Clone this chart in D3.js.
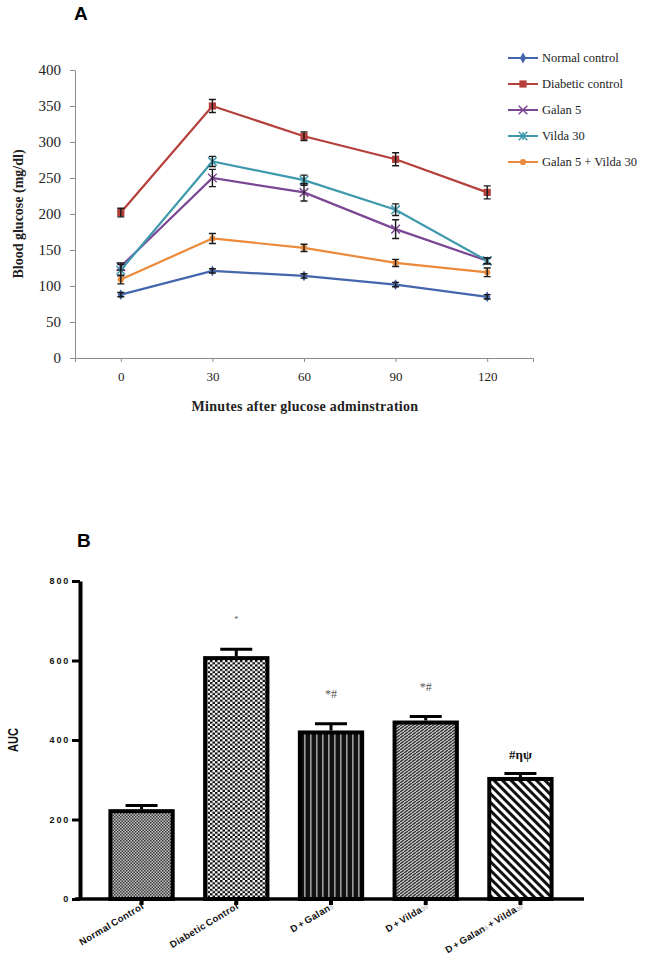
<!DOCTYPE html>
<html><head><meta charset="utf-8">
<script src="https://cdn.jsdelivr.net/npm/d3@7"></script>
<style>body{margin:0;background:#fff}svg{display:block}</style>
</head><body><svg id="c" width="654" height="959"></svg>
<script>
// ---------- Panel A data ----------
const times = [0, 30, 60, 90, 120];
const seriesNames = ["Normal control", "Diabetic control", "Galan 5", "Vilda 30", "Galan 5 + Vilda 30"];
const normalControl = [88, 121, 114, 102, 85];
const normalErr = [3, 3, 3, 3, 3];
const diabeticControl = [202, 350, 308, 276, 230];
const diabeticErr = [6, 9, 6, 9, 9];
const galan5 = [127, 250, 230, 179, 135];
const galan5Err = [5, 12, 12, 13, 4];
const vilda30 = [122, 273, 247, 206, 135];
const vilda30Err = [8, 7, 7, 8, 4];
const galanVilda = [109, 166, 153, 132, 119];
const galanVildaErr = [6, 7, 5, 5, 6];
const yTicksA = [0, 50, 100, 150, 200, 250, 300, 350, 400];
const seriesColors = ["#4566ad", "#b5403b", "#7b4795", "#3f99ad", "#ec8a3c"];
const seriesMarkers = ["diamond", "square", "x", "star", "circle"];

// ---------- Panel B data ----------
const groups = ["Normal Control", "Diabetic Control", "D + Galan5", "D + Vilda30", "D + Galan5 + Vilda30"];
const aucValues = [226, 611, 424, 449, 307];
const aucErr = [9, 17, 17, 10, 9];
const aucMarks = ["", "*", "*#", "*#", "#ηψ"];
const yTicksB = [0, 200, 400, 600, 800];
const barPatterns = ["pNormal", "pDiab", "pGalan", "pVilda", "pCombo"];

const svg = d3.select("#c");
const serif = "'Liberation Serif','Times New Roman',serif";
const sans = "'Liberation Sans',Arial,sans-serif";

// ================= Panel A =================
const seriesVals = [normalControl, diabeticControl, galan5, vilda30, galanVilda];
const seriesErrs = [normalErr, diabeticErr, galan5Err, vilda30Err, galanVildaErr];

const xA = d3.scalePoint().domain(times).range([75, 533]).padding(0.5);
const yA = d3.scaleLinear().domain([0, 400]).range([358, 70]);

svg.append("text").attr("x", 74).attr("y", 20).attr("font-family", sans)
  .attr("font-weight", "bold").attr("font-size", 19).text("A");

const gAx = svg.append("g").attr("transform", "translate(0,358)")
  .call(d3.axisBottom(xA).tickSize(4).tickSizeOuter(4).tickPadding(10));
gAx.selectAll("path,line").attr("stroke", "#8c8c8c");
gAx.selectAll("text").attr("font-family", serif).attr("font-size", 13).attr("fill", "#222");

const gAy = svg.append("g").attr("transform", "translate(75,0)")
  .call(d3.axisLeft(yA).tickValues(yTicksA).tickSize(5).tickSizeOuter(0).tickPadding(9));
gAy.selectAll("path,line").attr("stroke", "#8c8c8c");
gAy.selectAll("text").attr("font-family", serif).attr("font-size", 15).attr("fill", "#222");

svg.append("text").attr("transform", "translate(23,214) rotate(-90)")
  .attr("text-anchor", "middle").attr("font-family", serif).attr("font-weight", "bold")
  .attr("font-size", 14).attr("fill", "#222").text("Blood glucose (mg/dl)");
svg.append("text").attr("x", 305).attr("y", 411).attr("text-anchor", "middle")
  .attr("font-family", serif).attr("font-weight", "bold").attr("font-size", 14)
  .attr("letter-spacing", 0.3).attr("fill", "#222").text("Minutes after glucose adminstration");

function drawMarker(g, type, cx, cy, color) {
  if (type === "diamond") {
    g.append("path").attr("d", d3.symbol(d3.symbolDiamond, 34)()).attr("transform", `translate(${cx},${cy})`).attr("fill", color);
  } else if (type === "square") {
    g.append("path").attr("d", d3.symbol(d3.symbolSquare, 52)()).attr("transform", `translate(${cx},${cy})`).attr("fill", color);
  } else if (type === "circle") {
    g.append("path").attr("d", d3.symbol(d3.symbolCircle, 30)()).attr("transform", `translate(${cx},${cy})`).attr("fill", color);
  } else if (type === "x") {
    g.append("path").attr("d", d3.symbol(d3.symbolTimes, 50)()).attr("transform", `translate(${cx},${cy})`)
      .attr("fill", "none").attr("stroke", color).attr("stroke-width", 1.5);
  } else if (type === "star") {
    g.append("path").attr("d", d3.symbol(d3.symbolTimes, 50)()).attr("transform", `translate(${cx},${cy})`)
      .attr("fill", "none").attr("stroke", color).attr("stroke-width", 1.5);
    g.append("path").attr("d", `M${cx},${cy - 4}V${cy + 4}`).attr("stroke", color).attr("stroke-width", 1.5);
  }
}

const line = d3.line().x((d, i) => xA(times[i])).y(d => yA(d));
seriesVals.forEach((vals, s) => {
  const g = svg.append("g");
  g.append("path").attr("d", line(vals)).attr("fill", "none")
    .attr("stroke", seriesColors[s]).attr("stroke-width", 2.2);
  vals.forEach((v, i) => {
    drawMarker(g, seriesMarkers[s], xA(times[i]), yA(v), seriesColors[s]);
  });
});
// error bars on top
seriesVals.forEach((vals, s) => {
  const g = svg.append("g");
  vals.forEach((v, i) => {
    const cx = xA(times[i]), e = seriesErrs[s][i];
    const y1 = yA(v + e), y2 = yA(v - e);
    g.append("path").attr("d", `M${cx},${y1}V${y2}M${cx - 3.5},${y1}H${cx + 3.5}M${cx - 3.5},${y2}H${cx + 3.5}`)
      .attr("stroke", "#1a1a1a").attr("stroke-width", 1.4).attr("fill", "none");
  });
});

// legend
const legY = d3.scalePoint().domain(seriesNames).range([58, 162]);
seriesNames.forEach((n, s) => {
  const g = svg.append("g");
  const y = legY(n);
  g.append("line").attr("x1", 508).attr("x2", 538).attr("y1", y).attr("y2", y)
    .attr("stroke", seriesColors[s]).attr("stroke-width", 2);
  drawMarker(g, seriesMarkers[s], 523, y, seriesColors[s]);
  g.append("text").attr("x", 542).attr("y", y + 4).attr("font-family", serif)
    .attr("font-size", 12.5).attr("fill", "#222").text(n);
});

// ================= Panel B =================
const defs = svg.append("defs");
let p = defs.append("pattern").attr("id", "pNormal").attr("patternUnits", "userSpaceOnUse").attr("width", 3).attr("height", 3);
p.append("rect").attr("width", 3).attr("height", 3).attr("fill", "#c8c8c8");
p.append("rect").attr("width", 1.5).attr("height", 1.5).attr("fill", "#333");
p.append("rect").attr("x", 1.5).attr("y", 1.5).attr("width", 1.5).attr("height", 1.5).attr("fill", "#333");
p = defs.append("pattern").attr("id", "pDiab").attr("patternUnits", "userSpaceOnUse").attr("width", 5).attr("height", 4.4);
p.append("rect").attr("width", 5).attr("height", 4.4).attr("fill", "#fff");
p.append("rect").attr("width", 2.5).attr("height", 2.2).attr("fill", "#111");
p.append("rect").attr("x", 2.5).attr("y", 2.2).attr("width", 2.5).attr("height", 2.2).attr("fill", "#111");
p = defs.append("pattern").attr("id", "pGalan").attr("patternUnits", "userSpaceOnUse").attr("width", 6).attr("height", 6);
p.append("rect").attr("width", 6).attr("height", 6).attr("fill", "#111");
p.append("rect").attr("x", 4).attr("width", 1.6).attr("height", 6).attr("fill", "#9a9a9a");
p = defs.append("pattern").attr("id", "pVilda").attr("patternUnits", "userSpaceOnUse").attr("width", 4).attr("height", 3);
p.append("rect").attr("width", 4).attr("height", 3).attr("fill", "#bdbdbd");
p.append("path").attr("d", "M0,3L4,0").attr("stroke", "#2a2a2a").attr("stroke-width", 1.2);
p = defs.append("pattern").attr("id", "pCombo").attr("patternUnits", "userSpaceOnUse").attr("width", 6).attr("height", 6)
  .attr("patternTransform", "rotate(-45)");
p.append("rect").attr("width", 6).attr("height", 6).attr("fill", "#fff");
p.append("rect").attr("width", 3).attr("height", 6).attr("fill", "#111");

const xB = d3.scaleBand().domain(groups).range([80, 582]).padding(0.3);
const yB = d3.scaleLinear().domain([0, 800]).range([899, 581]);

svg.append("text").attr("x", 77).attr("y", 547).attr("font-family", sans)
  .attr("font-weight", "bold").attr("font-size", 19).text("B");

groups.forEach((gname, i) => {
  const x0 = xB(gname), w = xB.bandwidth();
  svg.append("rect").attr("x", x0 + 2).attr("y", yB(aucValues[i]) + 2)
    .attr("width", w - 4).attr("height", yB(0) - yB(aucValues[i]) - 2)
    .attr("fill", `url(#${barPatterns[i]})`).attr("stroke", "#000").attr("stroke-width", 4);
  const cx = x0 + w / 2, yt = yB(aucValues[i] + aucErr[i]);
  svg.append("path").attr("d", `M${cx},${yB(aucValues[i])}V${yt}M${cx - 16},${yt}H${cx + 16}`)
    .attr("stroke", "#000").attr("stroke-width", 3).attr("fill", "none");
});

const gBy = svg.append("g").attr("transform", "translate(80,0)")
  .call(d3.axisLeft(yB).tickValues(yTicksB).tickSize(8).tickSizeOuter(0).tickPadding(2));
gBy.select(".domain").attr("stroke", "#000").attr("stroke-width", 4);
gBy.selectAll("line").attr("stroke", "#000").attr("stroke-width", 3);
gBy.selectAll("text").attr("font-family", sans).attr("font-weight", "bold").attr("font-size", 9)
  .attr("letter-spacing", 1.8).attr("fill", "#111");

const gBx = svg.append("g").attr("transform", "translate(0,899)")
  .call(d3.axisBottom(xB).tickSize(6).tickSizeOuter(0).tickFormat(""));
gBx.select(".domain").attr("stroke", "#000").attr("stroke-width", 3.5).attr("d", "M75,0H584");
gBx.selectAll("line").attr("stroke", "#000").attr("stroke-width", 4);

groups.forEach((gname, i) => {
  const cx = xB(gname) + xB.bandwidth() / 2;
  const t = svg.append("text").attr("transform", `translate(${cx + 3},${908}) rotate(-31)`)
    .attr("text-anchor", "end").attr("font-family", sans).attr("font-weight", "bold")
    .attr("font-size", 9.5).attr("letter-spacing", 0.4).attr("word-spacing", -1.5).attr("fill", "#111");
  const parts = gname.split(/(\d+)/);
  parts.forEach(pt => {
    if (pt === "") return;
    if (/^\d+$/.test(pt)) t.append("tspan").attr("font-size", 6).attr("letter-spacing", 0).attr("fill", "#bbb").text(pt);
    else t.append("tspan").text(pt);
  });
});

svg.append("text").attr("transform", "translate(18,740) rotate(-90)").attr("text-anchor", "middle")
  .attr("font-family", sans).attr("font-weight", "bold").attr("font-size", 14).attr("fill", "#111")
  .attr("textLength", 24).attr("lengthAdjust", "spacingAndGlyphs").text("AUC");

aucMarks.forEach((m, i) => {
  if (!m) return;
  const cx = xB(groups[i]) + xB.bandwidth() / 2;
  const big = m.includes("η");
  svg.append("text").attr("x", cx).attr("y", yB(aucValues[i] + aucErr[i]) - (big ? 14 : (i === 1 ? 27 : 26)))
    .attr("text-anchor", "middle").attr("font-family", serif)
    .attr("font-weight", big ? "bold" : "normal")
    .attr("font-size", big ? 13 : (i === 1 ? 8 : 12))
    .attr("fill", big ? "#111" : "#555").text(m);
});
</script></body></html>
